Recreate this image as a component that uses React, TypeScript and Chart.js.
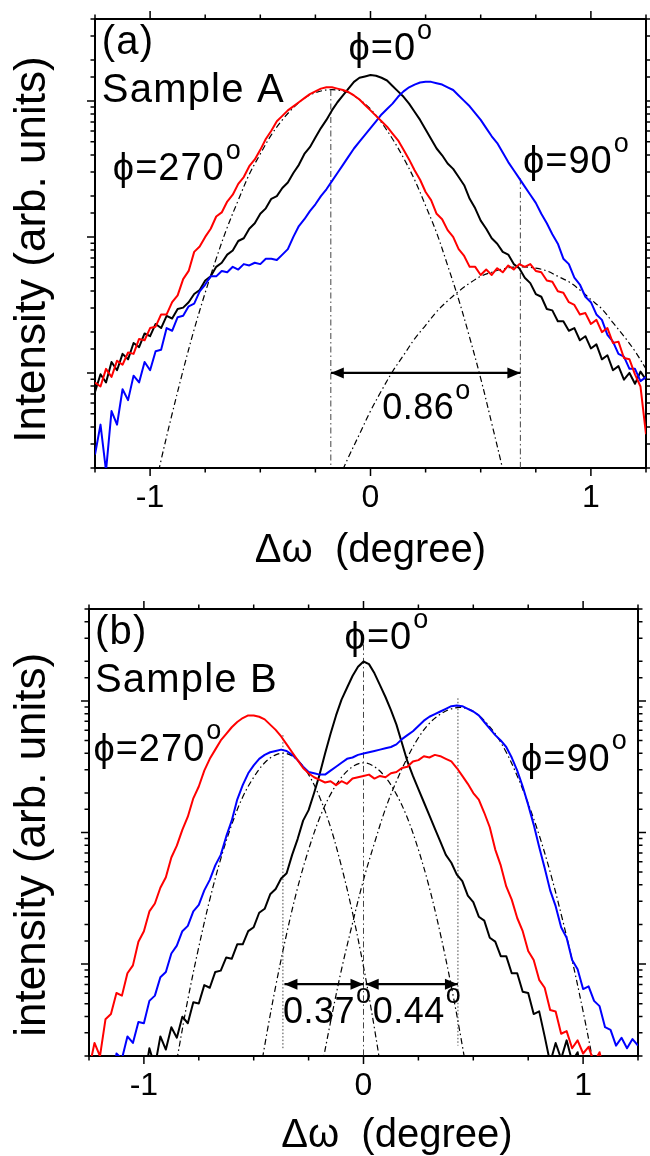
import React, { useEffect, useRef } from 'react';
import { Chart, registerables } from 'chart.js';

Chart.register(...registerables);

const FONT = '"Liberation Sans", Arial, Helvetica, sans-serif';

// ---------- shared x grid: Δω (degree) ----------
const dOmega = [
  -1.25, -1.225, -1.2, -1.175, -1.15, -1.125, -1.1, -1.075, -1.05, -1.025,
  -1, -0.975, -0.95, -0.925, -0.9, -0.875, -0.85, -0.825, -0.8, -0.775,
  -0.75, -0.725, -0.7, -0.675, -0.65, -0.625, -0.6, -0.575, -0.55, -0.525,
  -0.5, -0.475, -0.45, -0.425, -0.4, -0.375, -0.35, -0.325, -0.3, -0.275,
  -0.25, -0.225, -0.2, -0.175, -0.15, -0.125, -0.1, -0.075, -0.05, -0.025,
  0,
  0.025, 0.05, 0.075, 0.1, 0.125, 0.15, 0.175, 0.2, 0.225, 0.25,
  0.275, 0.3, 0.325, 0.35, 0.375, 0.4, 0.425, 0.45, 0.475, 0.5,
  0.525, 0.55, 0.575, 0.6, 0.625, 0.65, 0.675, 0.7, 0.725, 0.75,
  0.775, 0.8, 0.825, 0.85, 0.875, 0.9, 0.925, 0.95, 0.975, 1,
  1.025, 1.05, 1.075, 1.1, 1.125, 1.15, 1.175, 1.2, 1.225, 1.25,
];

// ---------- Sample A: log10(intensity) ----------
const phi0A_log10 = [
  2.86, 2.99, 2.93, 3.08, 3.02, 3.14, 3.10, 3.22, 3.19, 3.29,
  3.27, 3.36, 3.33, 3.42, 3.40, 3.47, 3.48, 3.52, 3.58, 3.61,
  3.68, 3.71, 3.78, 3.81, 3.87, 3.90, 3.97, 3.99, 4.06, 4.10,
  4.17, 4.21, 4.28, 4.30, 4.36, 4.40, 4.47, 4.53, 4.61, 4.66,
  4.73, 4.80, 4.86, 4.93, 4.99, 5.04, 5.09, 5.14, 5.17, 5.18,
  5.19,
  5.185, 5.17, 5.15, 5.11, 5.07, 5.03, 4.98, 4.92, 4.86, 4.79,
  4.72, 4.65, 4.60, 4.54, 4.50, 4.44, 4.38, 4.28, 4.21, 4.12,
  4.06, 3.99, 3.95, 3.89, 3.87, 3.80, 3.77, 3.70, 3.66, 3.58,
  3.56, 3.47, 3.46, 3.38, 3.38, 3.31, 3.33, 3.24, 3.27, 3.18,
  3.21, 3.10, 3.13, 3.02, 3.05, 2.95, 3.00, 2.92, 3.01, 2.95,
];
const phi270A_log10 = [
  2.93, 2.90, 3.03, 2.97, 3.09, 3.06, 3.15, 3.14, 3.25, 3.24,
  3.33, 3.34, 3.43, 3.43, 3.52, 3.57, 3.69, 3.75, 3.89, 3.93,
  4.00, 4.06, 4.15, 4.18, 4.26, 4.31, 4.39, 4.44, 4.52, 4.57,
  4.64, 4.72, 4.78, 4.85, 4.89, 4.93, 4.96, 4.99, 5.02, 5.05,
  5.07, 5.09, 5.10, 5.10, 5.09, 5.08, 5.065, 5.04, 5.01, 4.97,
  4.93,
  4.89, 4.85, 4.81, 4.76, 4.71, 4.64, 4.57, 4.49, 4.42, 4.33,
  4.27, 4.17, 4.13, 4.05, 4.00, 3.91, 3.86, 3.78, 3.78, 3.72,
  3.76, 3.72, 3.77, 3.74, 3.79, 3.76, 3.80, 3.78, 3.80, 3.75,
  3.74, 3.68, 3.67, 3.60, 3.59, 3.52, 3.50, 3.43, 3.44, 3.36,
  3.39, 3.30, 3.33, 3.22, 3.23, 3.11, 3.10, 2.99, 2.90, 2.55,
];
const phi90A_log10 = [
  2.40, 2.62, 2.28, 2.72, 2.62, 2.88, 2.80, 2.98, 2.93, 3.08,
  3.02, 3.16, 3.17, 3.33, 3.31, 3.41, 3.42, 3.49, 3.51, 3.60,
  3.65, 3.71, 3.71, 3.75, 3.74, 3.78, 3.76, 3.80, 3.79, 3.81,
  3.80, 3.84, 3.84, 3.83, 3.87, 3.91, 4.00, 4.08, 4.13, 4.19,
  4.24, 4.30, 4.35, 4.41, 4.47, 4.53, 4.59, 4.65, 4.70, 4.75,
  4.80,
  4.85, 4.90, 4.94, 4.98, 5.03, 5.07, 5.10, 5.12, 5.135, 5.14,
  5.14, 5.13, 5.12, 5.10, 5.08, 5.04, 5.00, 4.96, 4.91, 4.86,
  4.80, 4.74, 4.69, 4.62, 4.55, 4.49, 4.43, 4.37, 4.31, 4.25,
  4.17, 4.10, 4.02, 3.95, 3.84, 3.80, 3.70, 3.65, 3.56, 3.52,
  3.43, 3.39, 3.28, 3.23, 3.14, 3.12, 3.03, 3.03, 2.94, 2.97,
];
// fitted peaks (dash-dot), Sample A
const fitA1_x = [-1, -0.95, -0.9, -0.85, -0.8, -0.75, -0.7, -0.65, -0.6, -0.55, -0.5, -0.45, -0.4, -0.35, -0.3, -0.25, -0.2, -0.15, -0.1, -0.05, 0, 0.05, 0.1, 0.15, 0.2, 0.25, 0.3, 0.35, 0.4, 0.45, 0.5, 0.55, 0.6, 0.65];
const fitA1_log10 = [1.99, 2.36, 2.70, 3.02, 3.32, 3.59, 3.84, 4.07, 4.27, 4.46, 4.61, 4.75, 4.86, 4.95, 5.02, 5.06, 5.08, 5.08, 5.06, 5.01, 4.94, 4.84, 4.72, 4.58, 4.42, 4.23, 4.03, 3.79, 3.54, 3.26, 2.96, 2.63, 2.29, 1.92];
const fitA2_x = [-0.15, -0.1, -0.05, 0, 0.05, 0.1, 0.15, 0.2, 0.25, 0.3, 0.35, 0.4, 0.45, 0.5, 0.55, 0.6, 0.65, 0.7, 0.75, 0.8, 0.85, 0.9, 0.95, 1, 1.05, 1.1, 1.15, 1.2, 1.25];
const fitA2_log10 = [2.20, 2.38, 2.55, 2.72, 2.87, 3.01, 3.13, 3.25, 3.35, 3.45, 3.53, 3.60, 3.66, 3.71, 3.74, 3.765, 3.778, 3.779, 3.77, 3.75, 3.71, 3.67, 3.61, 3.54, 3.47, 3.37, 3.27, 3.16, 3.03];
// peak markers: x, top, bottom (log10)
const vlineA_x = [-0.18, 0.68];
const vlineA_top = [5.08, 4.43];
const vlineA_bottom = [2.2, 2.2];
// separation arrow
const arrowA_from = [-0.18];
const arrowA_to = [0.68];
const arrowA_y = [3.0];

// ---------- Sample B: log10(intensity) ----------
const phi0B_log10 = [
  1.0, 1.0, 1.0, 1.0, 1.0, 1.0, 1.0, 1.1, 1.0, 1.2,
  1.1, 1.36, 1.22, 1.45, 1.35, 1.52, 1.44, 1.60, 1.55, 1.71,
  1.70, 1.84, 1.82, 1.94, 1.95, 2.05, 2.04, 2.15, 2.15, 2.25,
  2.28, 2.39, 2.42, 2.53, 2.57, 2.65, 2.69, 2.83, 2.95, 3.09,
  3.17, 3.30, 3.44, 3.60, 3.75, 3.89, 4.01, 4.10, 4.19, 4.26,
  4.30,
  4.28, 4.21, 4.12, 4.03, 3.93, 3.82, 3.68, 3.54, 3.43, 3.33,
  3.23, 3.13, 3.03, 2.93, 2.83, 2.77, 2.68, 2.63, 2.52, 2.47,
  2.36, 2.33, 2.20, 2.17, 2.06, 2.06, 1.93, 1.93, 1.79, 1.78,
  1.62, 1.64, 1.45, 1.25, 1.40, 1.28, 1.42, 1.26, 1.33, 1.1,
  1.0, 1.0, 1.0, 1.0, 1.0, 1.0, 1.0, 1.0, 1.0, 1.0,
];
const phi270B_log10 = [
  1.20, 1.40, 1.30, 1.58, 1.62, 1.78, 1.76, 1.93, 1.99, 2.17,
  2.25, 2.40, 2.46, 2.58, 2.66, 2.81, 2.90, 3.02, 3.12, 3.26,
  3.35, 3.47, 3.56, 3.63, 3.70, 3.75, 3.80, 3.84, 3.87, 3.89,
  3.89, 3.88, 3.86, 3.82, 3.78, 3.73, 3.67, 3.61, 3.55, 3.49,
  3.45, 3.42, 3.40, 3.38, 3.39, 3.36, 3.39, 3.37, 3.41, 3.42,
  3.43,
  3.44, 3.41, 3.43, 3.42, 3.45, 3.46, 3.49, 3.50, 3.54, 3.55,
  3.58, 3.57, 3.59, 3.58, 3.56, 3.54, 3.49, 3.43, 3.37, 3.30,
  3.25, 3.15, 3.04, 2.87, 2.75, 2.59, 2.49, 2.35, 2.25, 2.10,
  2.03, 1.88, 1.82, 1.65, 1.64, 1.47, 1.49, 1.36, 1.42, 1.32,
  1.37, 1.25, 1.33, 1.15, 1.0, 1.0, 1.0, 1.0, 1.0, 1.0,
];
const phi90B_log10 = [
  1.0, 1.0, 1.0, 1.1, 1.0, 1.32, 1.28, 1.45, 1.40, 1.56,
  1.55, 1.72, 1.76, 1.90, 1.94, 2.08, 2.14, 2.25, 2.29, 2.40,
  2.45, 2.56, 2.64, 2.75, 2.83, 2.97, 3.09, 3.25, 3.36, 3.45,
  3.51, 3.56, 3.59, 3.61, 3.62, 3.63, 3.62, 3.59, 3.55, 3.50,
  3.46, 3.45, 3.44, 3.44, 3.47, 3.50, 3.53, 3.56, 3.57, 3.59,
  3.60,
  3.61, 3.62, 3.63, 3.64, 3.65, 3.67, 3.71, 3.74, 3.77, 3.81,
  3.85, 3.88, 3.90, 3.92, 3.94, 3.96, 3.965, 3.96, 3.94, 3.92,
  3.89, 3.84, 3.79, 3.74, 3.70, 3.65, 3.57, 3.47, 3.35, 3.21,
  3.06, 2.89, 2.73, 2.56, 2.44, 2.28, 2.20, 2.03, 1.96, 1.81,
  1.83, 1.72, 1.68, 1.52, 1.50, 1.38, 1.44, 1.36, 1.43, 1.38,
];
const fitB1_x = [-0.85, -0.8, -0.75, -0.7, -0.65, -0.6, -0.55, -0.5, -0.45, -0.4, -0.35, -0.3, -0.25, -0.2, -0.15, -0.1, -0.05, 0, 0.05, 0.1];
const fitB1_log10 = [1.27, 1.73, 2.13, 2.49, 2.80, 3.06, 3.27, 3.42, 3.53, 3.59, 3.60, 3.55, 3.44, 3.27, 3.04, 2.74, 2.39, 1.98, 1.51, 0.98];
const fitB2_x = [-0.5, -0.45, -0.4, -0.35, -0.3, -0.25, -0.2, -0.15, -0.1, -0.05, 0, 0.05, 0.1, 0.15, 0.2, 0.25, 0.3, 0.35, 0.4, 0.45, 0.5];
const fitB2_log10 = [0.88, 1.38, 1.83, 2.23, 2.58, 2.87, 3.11, 3.29, 3.42, 3.50, 3.53, 3.50, 3.42, 3.29, 3.11, 2.87, 2.58, 2.23, 1.83, 1.38, 0.88];
const fitB3_x = [-0.2, -0.15, -0.1, -0.05, 0, 0.05, 0.1, 0.15, 0.2, 0.25, 0.3, 0.35, 0.4, 0.45, 0.5, 0.55, 0.6, 0.65, 0.7, 0.75, 0.8, 0.85, 0.9, 0.95, 1, 1.05];
const fitB3_log10 = [1.13, 1.56, 1.96, 2.31, 2.64, 2.92, 3.18, 3.39, 3.57, 3.72, 3.83, 3.90, 3.94, 3.95, 3.92, 3.85, 3.75, 3.61, 3.43, 3.22, 2.98, 2.70, 2.38, 2.03, 1.64, 1.22];
const vlineB_x = [-0.367, 0, 0.43];
const vlineB_top = [3.74, 4.43, 4.02];
const vlineB_bottom = [1.35, 1.2, 1.38];
const arrowB_from = [-0.36, 0.01];
const arrowB_to = [0, 0.43];
const arrowB_y = [1.847, 1.847];

// ---------- annotation texts ----------
const labelA_text = ['(a)', 'Sample A', '\u03D5=0', '\u03D5=270', '\u03D5=90', '0.86'];
const labelA_x = [-1.219, -1.219, -0.1, -1.169, 0.692, 0.053];
const labelA_y = [5.346, 4.995, 5.297, 4.418, 4.469, 2.662];
const labelB_text = ['(b)', 'Sample B', '\u03D5=0', '\u03D5=270', '\u03D5=90', '0.37', '0.44'];
const labelB_x = [-1.223, -1.223, -0.086, -1.23, 0.717, -0.367, 0.042];
const labelB_y = [4.43, 4.066, 4.396, 3.546, 3.47, 1.555, 1.555];

// ---------------------------------------------------------------
const P = (v: number) => Math.pow(10, v);
const toPts = (xs: number[], ls: number[]) => xs.map((x, i) => ({ x, y: P(ls[i]) }));

type Spec = {
  series: { name: string; color: string; log: number[] }[];
  fits: { x: number[]; log: number[] }[];
  vx: number[]; vtop: number[]; vbot: number[]; vdash: number[][];
  ax1: number[]; ax2: number[]; ay: number[];
  lt: string[]; lx: number[]; ly: number[];
  yMin: number; yMax: number;
  yTitle: string; xTitle: string; xTitlePad: number;
  leftW: number; rightW: number; topH: number; bottomH: number;
};

const DASHDOT = [6, 3, 1.5, 3];
const DOTTED = [1.5, 2];

const specA: Spec = {
  series: [
    { name: '\u03D5=270\u00B0', color: '#ff0000', log: phi270A_log10 },
    { name: '\u03D5=90\u00B0', color: '#0000ff', log: phi90A_log10 },
    { name: '\u03D5=0\u00B0', color: '#000000', log: phi0A_log10 },
  ],
  fits: [
    { x: fitA1_x, log: fitA1_log10 },
    { x: fitA2_x, log: fitA2_log10 },
  ],
  vx: vlineA_x, vtop: vlineA_top, vbot: vlineA_bottom, vdash: [DASHDOT, DASHDOT],
  ax1: arrowA_from, ax2: arrowA_to, ay: arrowA_y,
  lt: labelA_text, lx: labelA_x, ly: labelA_y,
  yMin: 200, yMax: 4e5,
  yTitle: 'Intensity (arb. units) ', xTitle: '\u0394\u03C9  (degree)', xTitlePad: 3,
  leftW: 95, rightW: 4, topH: 19, bottomH: 110,
};

const specB: Spec = {
  series: [
    { name: '\u03D5=270\u00B0', color: '#ff0000', log: phi270B_log10 },
    { name: '\u03D5=90\u00B0', color: '#0000ff', log: phi90B_log10 },
    { name: '\u03D5=0\u00B0', color: '#000000', log: phi0B_log10 },
  ],
  fits: [
    { x: fitB1_x, log: fitB1_log10 },
    { x: fitB2_x, log: fitB2_log10 },
    { x: fitB3_x, log: fitB3_log10 },
  ],
  vx: vlineB_x, vtop: vlineB_top, vbot: vlineB_bottom, vdash: [DOTTED, DASHDOT, DOTTED],
  ax1: arrowB_from, ax2: arrowB_to, ay: arrowB_y,
  lt: labelB_text, lx: labelB_x, ly: labelB_y,
  yMin: 20, yMax: 5e4,
  yTitle: 'intensity (arb. units)  ', xTitle: '      \u0394\u03C9  (degree)', xTitlePad: -4,
  leftW: 89, rightW: 12, topH: 31, bottomH: 100,
};

function decorPlugin(spec: Spec) {
  return {
    id: 'decor',
    afterDraw(chart: any) {
      const { ctx, chartArea: ca } = chart;
      const xs = chart.scales.x;
      const ys = chart.scales.y;
      ctx.save();
      // tick marks on all four sides
      ctx.strokeStyle = '#000';
      ctx.lineWidth = 1.5;
      ctx.beginPath();
      for (const t of xs.ticks) {
        const px = xs.getPixelForValue(t.value);
        const major = Math.abs(t.value - Math.round(t.value)) < 1e-9;
        const len = major ? 8 : 4.5;
        ctx.moveTo(px, ca.bottom);
        ctx.lineTo(px, ca.bottom + len);
        ctx.moveTo(px, ca.top);
        ctx.lineTo(px, ca.top - len);
      }
      for (const t of ys.ticks) {
        const py = ys.getPixelForValue(t.value);
        const lg = Math.log10(t.value);
        const major = Math.abs(lg - Math.round(lg)) < 1e-6;
        const len = major ? 8 : 4.5;
        ctx.moveTo(ca.left, py);
        ctx.lineTo(ca.left - len, py);
        ctx.moveTo(ca.right, py);
        ctx.lineTo(ca.right + len, py);
      }
      ctx.stroke();

      // arrow heads
      ctx.fillStyle = '#000';
      for (let i = 0; i < spec.ax1.length; i++) {
        const y = ys.getPixelForValue(P(spec.ay[i]));
        const x1 = xs.getPixelForValue(spec.ax1[i]);
        const x2 = xs.getPixelForValue(spec.ax2[i]);
        const L = 13, H = 5.5;
        ctx.beginPath();
        ctx.moveTo(x1, y); ctx.lineTo(x1 + L, y - H); ctx.lineTo(x1 + L, y + H); ctx.closePath();
        ctx.fill();
        ctx.beginPath();
        ctx.moveTo(x2, y); ctx.lineTo(x2 - L, y - H); ctx.lineTo(x2 - L, y + H); ctx.closePath();
        ctx.fill();
      }

      // text labels
      ctx.textAlign = 'left';
      ctx.textBaseline = 'alphabetic';
      for (let i = 0; i < spec.lt.length; i++) {
        const text = spec.lt[i];
        const px = xs.getPixelForValue(spec.lx[i]);
        const py = ys.getPixelForValue(P(spec.ly[i]));
        const isTitle = text.startsWith('(') || text.startsWith('Sample');
        const isPhi = text.startsWith('\u03D5');
        const size = isTitle ? 40 : isPhi ? 38 : 36;
        const sp = isTitle ? 1.2 : isPhi ? 1 : 0.5;
        ctx.font = `${size}px ${FONT}`;
        (ctx as any).letterSpacing = `${sp}px`;
        ctx.fillText(text, px, py);
        if (!isTitle) {
          const w = ctx.measureText(text).width;
          const digitTop = py - 0.716 * size;
          ctx.font = `27px ${FONT}`;
          (ctx as any).letterSpacing = '0px';
          ctx.fillText('o', px + w + 1, digitTop + 6);
        }
      }
      (ctx as any).letterSpacing = '0px';
      ctx.restore();
    },
  };
}

function makeConfig(spec: Spec): any {
  const datasets: any[] = [];
  for (const s of spec.series) {
    datasets.push({
      label: s.name, data: toPts(dOmega, s.log), borderColor: s.color, backgroundColor: s.color,
      borderWidth: 2, pointRadius: 0, tension: 0, fill: false, borderJoinStyle: 'round',
    });
  }
  for (let i = 0; i < spec.ax1.length; i++) {
    datasets.push({
      label: 'arrow', data: [{ x: spec.ax1[i], y: P(spec.ay[i]) }, { x: spec.ax2[i], y: P(spec.ay[i]) }],
      borderColor: '#000', borderWidth: 2.2, pointRadius: 0, fill: false,
    });
  }
  for (let i = 0; i < spec.vx.length; i++) {
    datasets.push({
      label: 'peak', data: [{ x: spec.vx[i], y: P(spec.vtop[i]) }, { x: spec.vx[i], y: P(spec.vbot[i]) }],
      borderColor: '#444', borderWidth: 1, borderDash: spec.vdash[i], pointRadius: 0, fill: false,
    });
  }
  for (const f of spec.fits) {
    datasets.push({
      label: 'fit', data: toPts(f.x, f.log), borderColor: '#000', borderWidth: 1.2,
      borderDash: DASHDOT, pointRadius: 0, tension: 0.35, fill: false,
    });
  }
  const border = { display: true, color: '#000', width: 2 };
  return {
    type: 'line',
    data: { datasets },
    options: {
      animation: false,
      responsive: false,
      events: [],
      layout: { padding: 0 },
      plugins: { legend: { display: false }, tooltip: { enabled: false } },
      scales: {
        x: {
          type: 'linear', position: 'bottom', min: -1.25, max: 1.25,
          ticks: {
            stepSize: 0.25, autoSkip: false, maxRotation: 0, minRotation: 0, padding: 3, color: '#000',
            font: { family: FONT, size: 32 },
            callback: (v: number) => (Math.abs(v - Math.round(v)) < 1e-9 ? String(Math.round(v) || 0) : ''),
          },
          grid: { drawOnChartArea: false, drawTicks: true, tickLength: 8, tickColor: 'rgba(0,0,0,0)' },
          border,
          title: {
            display: true, text: spec.xTitle, color: '#000', font: { family: FONT, size: 40 },
            padding: { top: 0, bottom: spec.xTitlePad },
          },
          afterFit: (s: any) => { s.height = spec.bottomH; },
        },
        x2: {
          type: 'linear', position: 'top', min: -1.25, max: 1.25,
          ticks: { display: false },
          grid: { drawOnChartArea: false, drawTicks: false },
          border,
          afterFit: (s: any) => { s.height = spec.topH; },
        },
        y: {
          type: 'logarithmic', position: 'left', min: spec.yMin, max: spec.yMax,
          ticks: { display: false },
          grid: { drawOnChartArea: false, drawTicks: false },
          border,
          title: {
            display: true, text: spec.yTitle, color: '#000', font: { family: FONT, size: 44 },
            padding: { top: 6, bottom: 0 },
          },
          afterFit: (s: any) => { s.width = spec.leftW; },
        },
        y2: {
          type: 'logarithmic', position: 'right', min: spec.yMin, max: spec.yMax,
          ticks: { display: false },
          grid: { drawOnChartArea: false, drawTicks: false },
          border,
          afterFit: (s: any) => { s.width = spec.rightW; },
        },
      },
    },
    plugins: [decorPlugin(spec)],
  };
}

export default function App() {
  const refA = useRef<HTMLCanvasElement>(null);
  const refB = useRef<HTMLCanvasElement>(null);
  useEffect(() => {
    const a = new Chart(refA.current as HTMLCanvasElement, makeConfig(specA));
    const b = new Chart(refB.current as HTMLCanvasElement, makeConfig(specB));
    return () => { a.destroy(); b.destroy(); };
  }, []);
  return (
    <div style={{ position: 'absolute', left: 0, top: 0, width: 650, height: 1156, background: '#fff' }}>
      <canvas ref={refA} width={650} height={578} style={{ position: 'absolute', left: 0, top: 0, width: 650, height: 578 }} />
      <canvas ref={refB} width={650} height={578} style={{ position: 'absolute', left: 0, top: 578, width: 650, height: 578 }} />
    </div>
  );
}
